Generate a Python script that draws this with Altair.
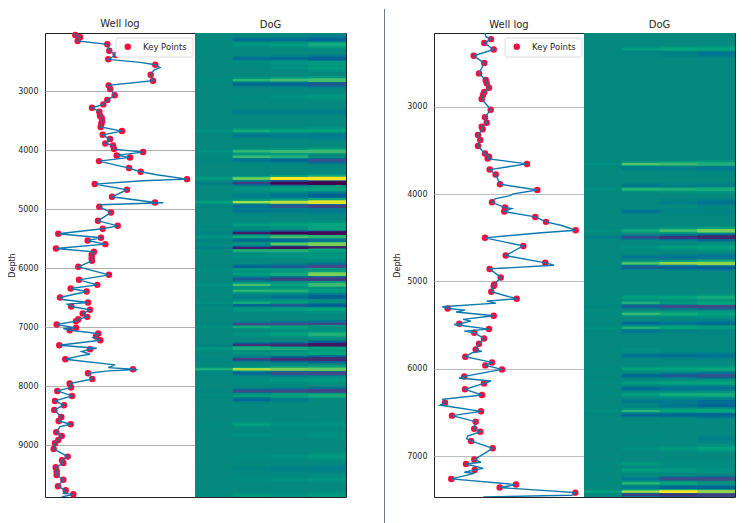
import altair as alt
import pandas as pd

FONT = "DejaVu Sans"
INK = "#262626"

# ---------- left well ----------
a_domain = [2017, 9876]
a_key_x = [30.3,35,32.7,62.3,64.3,70.7,63.3,110.3,105.7,108,63.7,65.3,69.7,62.3,58.3,47,54.3,55,56.7,57,56.3,55.7,77,57.7,65,60.3,68,69,98,71.7,85,54,84,95.7,142,49.7,82,67,110,54.3,66,53,72.7,57.7,13.3,56,42.7,60.3,11,49,46.7,46.7,47,33.3,
           64,34,52.3,25.7,41.7,15,43,26.3,45,37.7,42.3,33.3,31,11.7,31,24.7,53.3,51,55.3,14.3,45,20.3,88,43,47.3,24.7,26,12.3,27,10,19,9.3,16.3,13.7,25.7,11.3,16.7,13.3,10,8.7,22.7,17,18.3,10.7,11.7,11.7,18.3,13,20.7,28.3]
a_key_d = [2051,2090,2152,2209,2316,2390,2463,2554,2723,2825,2904,2966,3073,3153,3226,3283,3350,3418,3458,3514,3559,3610,3678,3740,3814,3887,3921,3983,4034,4090,4124,4187,4305,4367,4492,4576,4672,4791,4887,4961,5057,5198,5283,5333,5418,5486,5531,5593,5667,5723,5774,5831,5876,5978,
           6113,6198,6283,6345,6395,6497,6582,6650,6706,6768,6825,6864,6898,6955,7011,7051,7107,7158,7220,7305,7373,7542,7712,7780,7876,7955,8023,8079,8164,8249,8322,8401,8520,8588,8644,8780,8842,8910,8966,9062,9192,9254,9300,9373,9446,9503,9582,9695,9763,9831]
a_extra_x = [28.3,95,115,109,111.7,98,118.3,55,48.3,18.3,22.3,17.3,51.7,36.7,45,35,70,63.3,92.7,63.3,15,18.3,16.7]
a_extra_d = [2017,2514,2604,2644,4418,4520,4893,4927,7175,7023,6610,6531,7356,7412,7458,7486,7638,7684,7718,7740,8684,9814,9876]

a_dog_depth = [2130,2215,2450,2530,2610,2815,2885,3100,3360,3673,3760,4023,4113,4173,4481,4560,4660,4770,4882,4956,5030,5266,5330,5407,5470,5530,5593,5660,5700,5800,5975,6030,6102,6186,6283,6385,6486,6587,6628,6700,6950,6995,7120,7300,7363,7440,7542,7712,7780,7900,8080,8164,8230,8650,8830,9190,9400,9580,9850]
a_dog_1 = [0,.02,0,0,0,.05,0,0,0,.1,0,.1,.03,-.02,.25,-.1,0,0,.3,-.03,0,.03,0,-.05,.15,-.05,.03,-.1,.05,0,0,.05,0,0,.1,.03,0,.1,-.03,0,-.02,.1,0,-.05,.2,0,-.03,.45,-.03,0,-.02,.03,0,.05,0,0,0,0,.03]
a_dog_2 = [-.25,.2,-.25,.05,0,.5,-.3,.03,-.15,.4,-.2,.55,.55,-.2,.75,-.6,.15,-.1,.85,-.25,-.2,.25,.05,-.85,.4,-.3,.1,-.85,.45,.1,-.35,.2,.25,-.4,.6,.5,-.1,.4,-.3,.2,-.5,.4,.15,-.7,.45,.1,-.6,.85,-.3,.1,-.5,.25,-.3,.3,.1,.05,-.05,.05,.2]
a_dog_3 = [-.25,.25,-.25,.15,.1,.6,-.3,.1,-.1,.3,-.12,.55,.45,-.3,1,-1,.3,-.2,.9,-.45,-.15,.3,.1,-1,.6,-.3,.7,-.95,.45,.15,-.4,.2,.4,-.6,.3,.45,-.2,.3,-.4,.25,-.5,.3,.3,-.75,.4,.2,-.75,.75,-.5,.2,-.5,.3,-.1,.1,.05,.1,-.1,.1,.1]
a_dog_4 = [-.3,.4,-.35,.22,.22,.6,-.4,.15,-.1,.3,-.15,.55,0,-.45,1,-1,.3,-.35,.95,-.55,-.15,.35,.3,-.95,.5,-.2,.75,-.85,.3,.2,-.5,.2,.75,-.6,.55,.25,-.35,.05,-.35,.3,-.5,.1,.45,-.9,.3,.35,-.75,.7,-.5,.2,-.55,.4,0,.1,.1,.2,-.1,.15,.2]

# ---------- right well ----------
b_domain = [2157, 7466]
b_key_x = [57,50.3,59.7,39.7,50.3,45,51.7,52.7,55,50.3,49,47.7,56.7,51,52.7,47.7,48.7,44,46.3,44,51,55,53.7,93,55.7,61.7,66,103.3,58,71,70.3,101.3,112,141.7,51,89.3,71.7,111.3,55.7,
           66.7,60.3,59.7,57.3,82.7,13.7,59.7,25.3,55,40.3,50,45,41.7,31.3,58,51.3,68,30.3,50,31,48,11,47,18,41.7,40.3,46.3,37,58.7,40.3,32,40.7,17.3,82,65.7,141.3]
b_key_d = [2227,2272,2345,2417,2501,2619,2695,2733,2783,2832,2867,2912,3034,3122,3183,3229,3259,3324,3381,3450,3537,3572,3594,3655,3720,3777,3888,3953,4094,4154,4200,4261,4318,4414,4501,4593,4703,4787,4856,
           4954,5034,5053,5118,5198,5309,5392,5484,5545,5587,5652,5712,5777,5861,5926,5960,6006,6086,6166,6234,6299,6387,6486,6535,6604,6684,6718,6825,6909,7038,7088,7157,7259,7324,7358,7416]
b_extra_x = [51,52,79.3,76,61,77.7,127.7,104.3,120,52.7,62,8.3,31,22,29,37,20,30.3,47.7,38.3,25,57,8.7,6,33.7,32.7,47,49.3,30.3,40.3,137.7,49.3]
b_extra_d = [2158,2200,3998,4017,4055,4166,4360,4445,4814,5225,5248,5290,5328,5350,5434,5453,5492,5568,5800,5815,6105,6139,6349,6414,6768,6798,7069,7139,7183,7195,7446,7465]

b_dog_depth = [2340,2395,3656,3706,3904,3946,4095,4200,4419,4495,4610,4720,4793,4839,5182,5246,5288,5372,5479,5532,5570,5780,5849,6001,6078,6161,6226,6295,6375,6420,6482,6528,6800,6913,7085,7160,7260,7310,7358,7405,7443]
b_dog_1 = [0,0,.1,0,0,.1,0,0,.1,-.15,0,0,0,-.02,.03,.05,-.03,.05,0,.08,0,0,0,.03,0,.02,0,.02,0,0,.1,-.02,0,0,.02,.03,0,.02,0,.3,0]
b_dog_2 = [.25,-.05,.65,-.15,-.2,.5,0,-.25,.4,-.55,.12,-.2,.65,-.4,.3,.45,-.4,.55,-.3,.45,-.2,.1,-.25,.35,-.3,.25,-.3,.3,-.2,-.05,.5,-.3,.05,.1,.25,.3,-.2,.5,-.15,.85,-.6]
b_dog_3 = [.35,-.1,.55,-.1,-.1,.45,-.1,-.05,.6,-.7,.25,-.2,.8,-.35,.35,.2,-.5,.4,-.2,.35,-.08,.03,-.25,.3,-.4,.3,-.2,.4,-.15,-.2,.35,-.3,0,.2,.05,.2,-.5,.35,-.3,1,-.7]
b_dog_4 = [.35,-.2,.45,-.15,-.1,.4,-.2,-.05,.75,-.8,.3,-.2,.8,-.35,.4,.35,-.5,.3,-.25,.2,-.05,.03,-.2,.35,-.45,.35,-.2,.4,-.25,-.3,.35,-.3,-.1,.3,.05,.1,-.5,.1,-.3,.8,-.6]

band_scale = [0.6, 0.8, 1.0, 1.25]
ramp_domain = [-1, -.5, 0, .35, .7, 1]
ramp_range = ["#440154", "#3e4a89", "#05897f", "#00a57c", "#5ec962", "#fde725"]
ticks = [3000, 4000, 5000, 6000, 7000, 8000, 9000]


def well_panel(key_x, key_d, extra_x, extra_d, domain, title_pad, grid_color):
    keys = pd.DataFrame({"x": key_x, "d": key_d, "s": "Key Points"})
    line = pd.concat([keys[["x", "d"]], pd.DataFrame({"x": extra_x, "d": extra_d})]).sort_values("d")
    xs = alt.Scale(domain=[0, 150])
    ys = alt.Scale(domain=domain, reverse=True, nice=False, zero=False)
    yax = alt.Axis(title="Depth", values=[t for t in ticks if domain[0] < t < domain[1]], format="d",
                   grid=True, gridColor=grid_color, gridWidth=1, ticks=False, domain=False,
                   labelPadding=7, labelFontSize=8, titleFontSize=8, titleFontWeight="normal",
                   labelFont=FONT, titleFont=FONT, labelColor=INK, titleColor=INK, titlePadding=title_pad)
    pts = alt.Chart(keys).mark_point(filled=True, size=42, opacity=1).encode(
        x=alt.X("x:Q", scale=xs, axis=None),
        y=alt.Y("d:Q", scale=ys, axis=yax),
        color=alt.Color("s:N", scale=alt.Scale(range=["#fb0a3a"]),
                        legend=alt.Legend(title=None, orient="none", legendX=70.5, legendY=4.5,
                                          fillColor="white", strokeColor="#dcdcdc", cornerRadius=2,
                                          padding=5, labelFont=FONT, labelFontSize=8.5, labelColor=INK,
                                          symbolSize=42, labelOffset=11, offset=0, symbolOffset=3,
                                          symbolStrokeWidth=0)),
    )
    ln = alt.Chart(line).mark_line(color="#0a78ae", strokeWidth=1.4, clip=True).encode(
        x=alt.X("x:Q", scale=xs, axis=None),
        y=alt.Y("d:Q", scale=ys, axis=yax),
        order=alt.Order("d:Q"),
    )
    return alt.layer(pts, ln).properties(
        width=150, height=464,
        title=alt.TitleParams("Well log", font=FONT, fontSize=10, fontWeight="normal", color=INK, offset=3),
    )


def dog_panel(depth, c1, c2, c3, c4, domain, thick):
    rows = [{"c": c, "d0": domain[0], "d1": domain[1], "v": 0.0, "o": 0} for c in range(4)]
    for c, series in enumerate([c1, c2, c3, c4]):
        half = thick * band_scale[c] / 2
        for d, v in zip(depth, series):
            rows.append({"c": c, "d0": d - 2.2 * half, "d1": d + 2.2 * half, "v": v * 0.4, "o": 1})
            rows.append({"c": c, "d0": d - half, "d1": d + half, "v": v, "o": 2})
    df = pd.DataFrame(rows)
    df["c1"] = df["c"] + 1.03
    return alt.Chart(df).mark_rect(clip=True, strokeWidth=0).encode(
        x=alt.X("c:Q", scale=alt.Scale(domain=[0, 4], nice=False), axis=None),
        x2="c1:Q",
        y=alt.Y("d0:Q", scale=alt.Scale(domain=domain, reverse=True, nice=False, zero=False), axis=None),
        y2="d1:Q",
        color=alt.Color("v:Q", scale=alt.Scale(domain=ramp_domain, range=ramp_range), legend=None),
        order=alt.Order("o:Q"),
    ).properties(
        width=151, height=464,
        title=alt.TitleParams("DoG", font=FONT, fontSize=10, fontWeight="normal", color=INK, offset=3),
    )


sep = alt.Chart(pd.DataFrame({"k": [0]})).mark_rule(color="#6c7a85", strokeWidth=1).encode(
    x=alt.value(38.5), y=alt.value(-24), y2=alt.value(491)
).properties(width=88, height=464, view=alt.ViewConfig(strokeOpacity=0))

chart = alt.hconcat(
    well_panel(a_key_x, a_key_d, a_extra_x, a_extra_d, a_domain, 1, "#b0b0b0"),
    dog_panel(a_dog_depth, a_dog_1, a_dog_2, a_dog_3, a_dog_4, a_domain, 50),
    sep,
    well_panel(b_key_x, b_key_d, b_extra_x, b_extra_d, b_domain, 5, "#bcbcbc"),
    dog_panel(b_dog_depth, b_dog_1, b_dog_2, b_dog_3, b_dog_4, b_domain, 32),
    spacing=0, bounds="flush",
).properties(padding=0, background="white").configure_view(stroke="#222222", strokeWidth=1)

chart.save("out.html", embed_options={"renderer": "svg", "actions": False})
